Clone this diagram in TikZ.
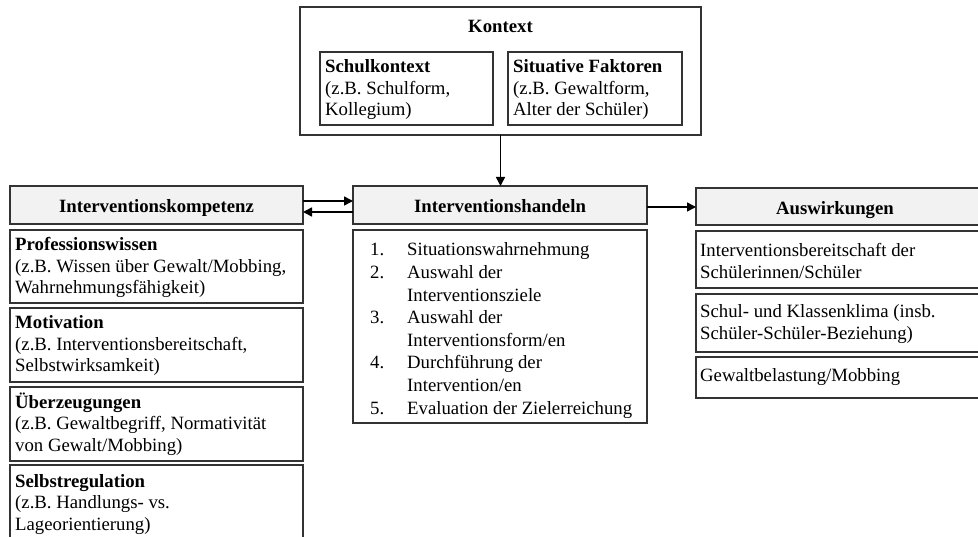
\documentclass[tikz,border=0pt]{standalone}
\usepackage{fontspec}
\setmainfont{Liberation Serif}
\usetikzlibrary{arrows.meta}
\begin{document}
\begin{tikzpicture}[x=1pt,y=-1pt,
  box/.style={draw=black!80, line width=1.1pt, inner sep=0pt, outer sep=0pt},
  hdr/.style={box, fill=black!5},
  txt/.style={anchor=base west, inner sep=0pt, align=left, font=\fontsize{18.75}{21.5}\selectfont},
  lst/.style={anchor=base west, inner sep=0pt, align=left, font=\fontsize{18.75}{22.6}\selectfont},
  ttl/.style={anchor=base, inner sep=0pt, font=\fontsize{18.75}{21.5}\selectfont\bfseries},
  arr/.style={line width=1.6pt, -{Triangle[length=9pt,width=9pt]}}
]
\useasboundingbox (0,0) rectangle (978,537);
\clip (0,0) rectangle (978,537);

% Kontext (multi-line nodes: base anchor = baseline of last line)
\node[box, minimum width=401pt, minimum height=128pt] (kon) at (500.5,71) {};
\node[ttl] (konT) at (500.5,33) {Kontext};
\node[box, minimum width=173pt, minimum height=73pt] (sk) at (406.5,88.5) {};
\node[txt] (skT) at (325,116) {\textbf{Schulkontext}\\(z.B. Schulform,\\Kollegium)};
\node[box, minimum width=174pt, minimum height=73pt] (sf) at (595,88.5) {};
\node[txt] (sfT) at (513,116) {\textbf{Situative Faktoren}\\(z.B. Gewaltform,\\Alter der Schüler)};

% Interventionshandeln
\node[hdr, minimum width=294pt, minimum height=38pt] (ih) at (500,205) {};
\node[ttl] (ihT) at (500,213) {Interventionshandeln};
\node[box, minimum width=294pt, minimum height=193pt] (ihL) at (500,326.5) {};
\node[lst] (ihLT) at (370,414) {%
\makebox[37pt][l]{1.}Situationswahrnehmung\\
\makebox[37pt][l]{2.}Auswahl der\\
\hspace*{37pt}Interventionsziele\\
\makebox[37pt][l]{3.}Auswahl der\\
\hspace*{37pt}Interventionsform/en\\
\makebox[37pt][l]{4.}Durchführung der\\
\hspace*{37pt}Intervention/en\\
\makebox[37pt][l]{5.}Evaluation der Zielerreichung};

% Interventionskompetenz
\node[hdr, minimum width=293pt, minimum height=38pt] (ik) at (156.5,205) {};
\node[ttl] (ikT) at (156.5,213) {Interventionskompetenz};
\node[box, minimum width=293pt, minimum height=73pt] (pw) at (156.5,266.5) {};
\node[txt] (pwT) at (15,294) {\textbf{Professionswissen}\\(z.B. Wissen über Gewalt/Mobbing,\\Wahrnehmungsfähigkeit)};
\node[box, minimum width=293pt, minimum height=74pt] (mo) at (156.5,345) {};
\node[txt] (moT) at (15,372) {\textbf{Motivation}\\(z.B. Interventionsbereitschaft,\\Selbstwirksamkeit)};
\node[box, minimum width=293pt, minimum height=74pt] (ue) at (156.5,424) {};
\node[txt] (ueT) at (15,451) {\textbf{Überzeugungen}\\(z.B. Gewaltbegriff, Normativität\\von Gewalt/Mobbing)};
\node[box, minimum width=293pt, minimum height=95pt] (sr) at (156.5,512.5) {};
\node[txt] (srT) at (15,530) {\textbf{Selbstregulation}\\(z.B. Handlungs- vs.\\Lageorientierung)};

% Auswirkungen
\node[hdr, minimum width=294pt, minimum height=37pt] (aw) at (843,206.5) {};
\node[ttl] (awT) at (835,215) {Auswirkungen};
\node[box, minimum width=294pt, minimum height=57pt] (aw1) at (843,259.5) {};
\node[txt] (aw1T) at (700,278.5) {Interventionsbereitschaft der\\Schülerinnen/Schüler};
\node[box, minimum width=294pt, minimum height=58pt] (aw2) at (843,323) {};
\node[txt] (aw2T) at (700,339.5) {Schul- und Klassenklima (insb.\\Schüler-Schüler-Beziehung)};
\node[box, minimum width=294pt, minimum height=41pt] (aw3) at (843,377.5) {};
\node[txt] (aw3T) at (700,382) {Gewaltbelastung/Mobbing};

% Arrows
\draw[arr] (kon.south) -- (kon.south |- ih.north);
\draw[arr] ([yshift=4pt]ik.east) -- ([yshift=4pt]ih.west);
\draw[arr] ([yshift=-7pt]ih.west) -- ([yshift=-7pt]ik.east);
\draw[arr] ([yshift=-2pt]ih.east) -- ([yshift=-2pt]ih.east -| aw.west);
\end{tikzpicture}
\end{document}
